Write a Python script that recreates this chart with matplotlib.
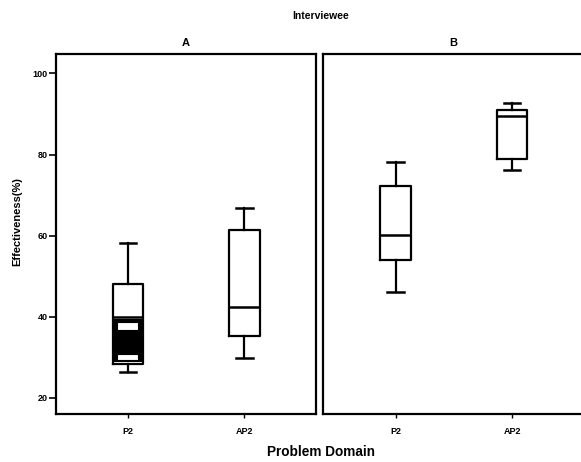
import matplotlib.pyplot as plt

plt.rcParams['font.family'] = ['Liberation Sans', 'DejaVu Sans']
plt.rcParams['font.weight'] = 'bold'

# box summaries per interviewee group: whisker low, Q1, median, Q3, whisker high
domains = ['P2', 'AP2']
panels = ['A', 'B']
whislo = {'A': [26.3, 29.9], 'B': [46.0, 76.2]}
q1 = {'A': [28.3, 35.3], 'B': [54.0, 79.0]}
med = {'A': [40.0, 42.5], 'B': [60.2, 89.4]}
q3 = {'A': [48.1, 61.4], 'B': [72.2, 91.0]}
whishi = {'A': [58.1, 66.8], 'B': [78.2, 92.8]}
yticks = [20, 40, 60, 80, 100]

# overlapping cases drawn inside the A/P2 box
dense_band = (28.9, 39.4)
dense_gaps = [(36.7, 38.7), (29.3, 30.7)]

fig = plt.figure(figsize=(5.81, 4.62), dpi=100)
axes = [fig.add_axes([0.0959, 0.1032, 0.448, 0.779]),
        fig.add_axes([0.5565, 0.1032, 0.448, 0.779])]

for ax, p in zip(axes, panels):
    stats = []
    for i, d in enumerate(domains):
        stats.append(dict(label=d, whislo=whislo[p][i], q1=q1[p][i], med=med[p][i],
                          q3=q3[p][i], whishi=whishi[p][i], fliers=[]))
    ax.bxp(stats, positions=[0, 1], widths=0.26, showfliers=False,
           boxprops=dict(color='black', lw=1.6),
           medianprops=dict(color='black', lw=1.8),
           whiskerprops=dict(color='black', lw=1.6),
           capprops=dict(color='black', lw=1.8), capwidths=0.14)
    if p == 'A':
        ax.fill_between([-0.125, 0.125], dense_band[0], dense_band[1], color='black', lw=0)
        for lo, hi in dense_gaps:
            ax.fill_between([-0.09, 0.09], lo, hi, color='white', lw=0)
            ax.plot([-0.09, 0.09, 0.09, -0.09, -0.09], [lo, lo, hi, hi, lo], color='black', lw=0.8)
    ax.set_xlim(-0.62, 1.614)
    ax.set_ylim(15.9, 104.7)
    ax.set_xticks([0, 1])
    ax.set_xticklabels(domains, fontsize=6.5, fontweight='bold')
    ax.tick_params(axis='x', length=3, width=1, pad=6)
    for s in ax.spines.values():
        s.set_linewidth(1.6)
    ax.set_title(p, fontsize=8, fontweight='bold', pad=6)

axes[0].set_yticks(yticks)
axes[0].set_yticklabels([str(v) for v in yticks], fontsize=6.5, fontweight='bold')
axes[0].tick_params(axis='y', length=5, width=1.2, pad=1)
axes[1].set_yticks([])

fig.text(0.551, 0.965, 'Interviewee', ha='center', va='center', fontsize=7.5, fontweight='bold')
fig.text(0.553, 0.022, 'Problem Domain', ha='center', va='center', fontsize=9.8, fontweight='bold')
fig.text(0.03, 0.52, 'Effectiveness(%)', ha='center', va='center', rotation=90,
         fontsize=8, fontweight='bold')

fig.savefig('out.png', dpi=100)
